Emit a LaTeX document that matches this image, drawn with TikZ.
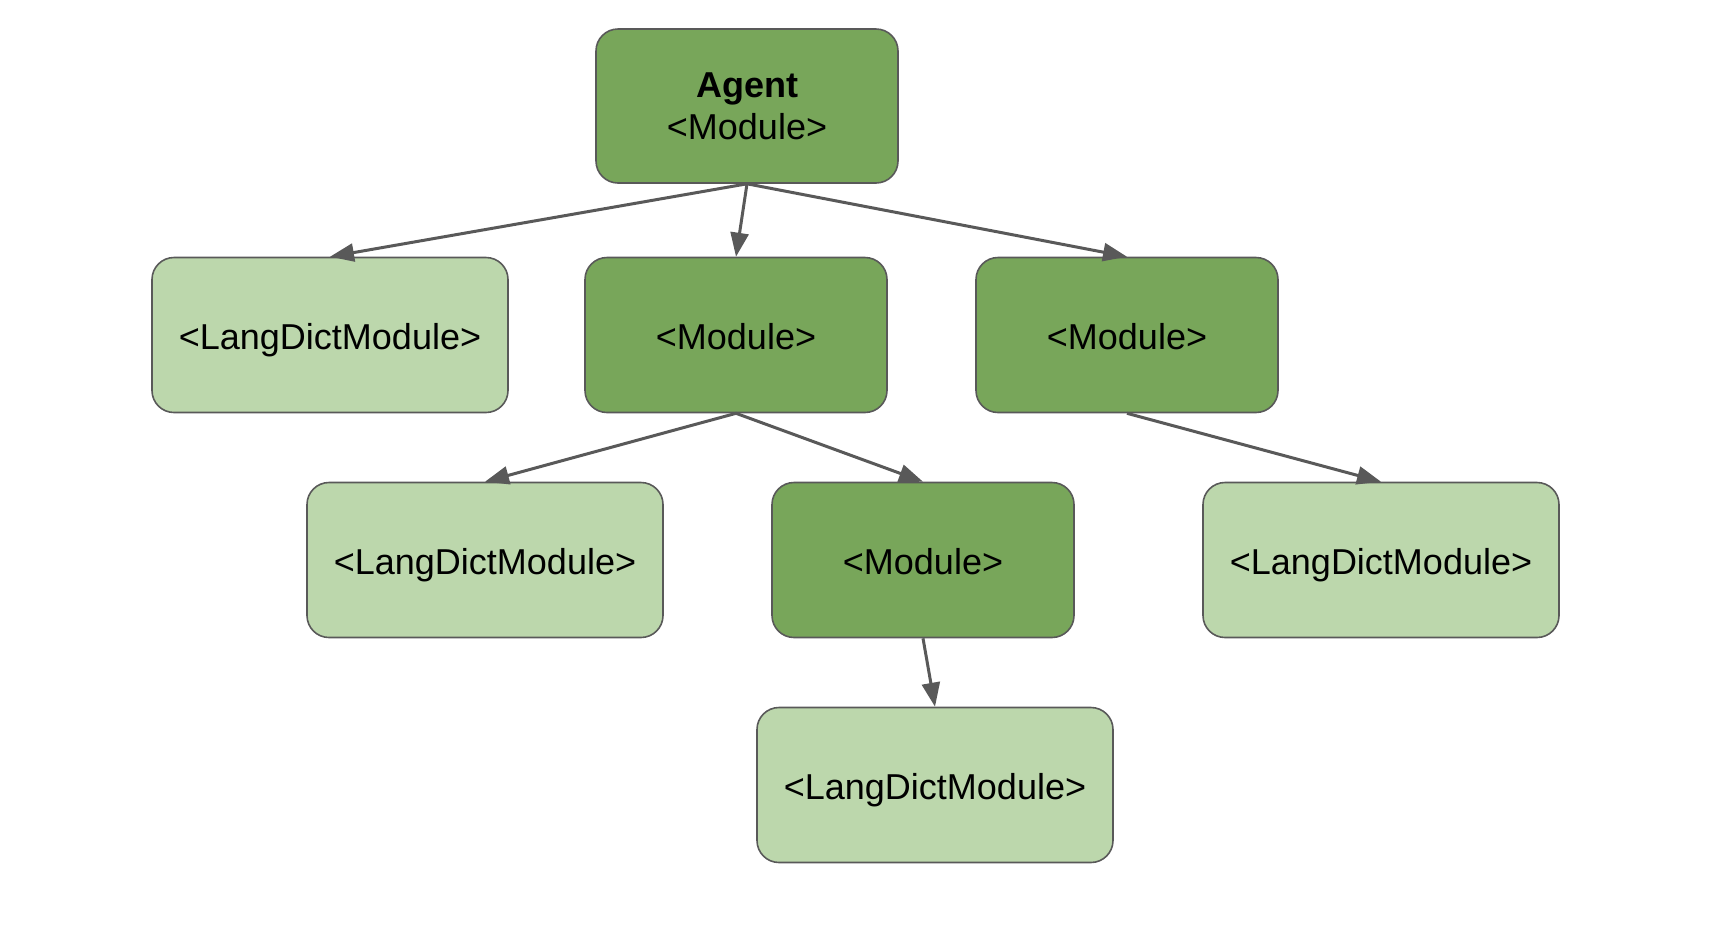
\documentclass[tikz,border=0pt]{standalone}
\usepackage{fontspec}
\setmainfont{Liberation Sans}
\usepackage{tikz}
\usetikzlibrary{arrows.meta}

\definecolor{modgreen}{HTML}{78A65A}
\definecolor{dictgreen}{HTML}{BCD7AC}
\definecolor{edgegray}{HTML}{595959}

\begin{document}
\begin{tikzpicture}[x=0.5pt, y=-0.5pt,
    box/.style={draw=edgegray, line width=0.8pt, rounded corners=11pt, minimum height=77.5pt,
      inner sep=0pt, align=center, font=\fontsize{18}{21}\selectfont},
    module/.style={box, fill=modgreen, minimum width=151pt, text height=14pt, text depth=0pt},
    dict/.style={box, fill=dictgreen, minimum width=178pt, text height=14pt, text depth=0pt},
    link/.style={-{Triangle[length=12pt, width=9pt]}, draw=edgegray, line width=1.5pt}]
  \useasboundingbox (0,0) rectangle (1734,928);

  \node [box, fill=modgreen, minimum width=151pt, minimum height=77pt] at (747,106) (agent) {\textbf{Agent}\\<Module>};

  \node [dict] at (330,335) (dictA) {<LangDictModule>};
  \node [module] at (736,335) (modA) {<Module>};
  \node [module] at (1127,335) (modB) {<Module>};

  \node [dict] at (485,560) (dictB) {<LangDictModule>};
  \node [module] at (923,560) (modC) {<Module>};
  \node [dict] at (1381,560) (dictC) {<LangDictModule>};

  \node [dict] at (935,785) (dictD) {<LangDictModule>};

  \draw [link] (agent.south) -- (dictA.north);
  \draw [link] (agent.south) -- (modA.north);
  \draw [link] (agent.south) -- (modB.north);
  \draw [link] (modA.south) -- (dictB.north);
  \draw [link] (modA.south) -- (modC.north);
  \draw [link] (modB.south) -- (dictC.north);
  \draw [link] (modC.south) -- (dictD.north);
\end{tikzpicture}
\end{document}
